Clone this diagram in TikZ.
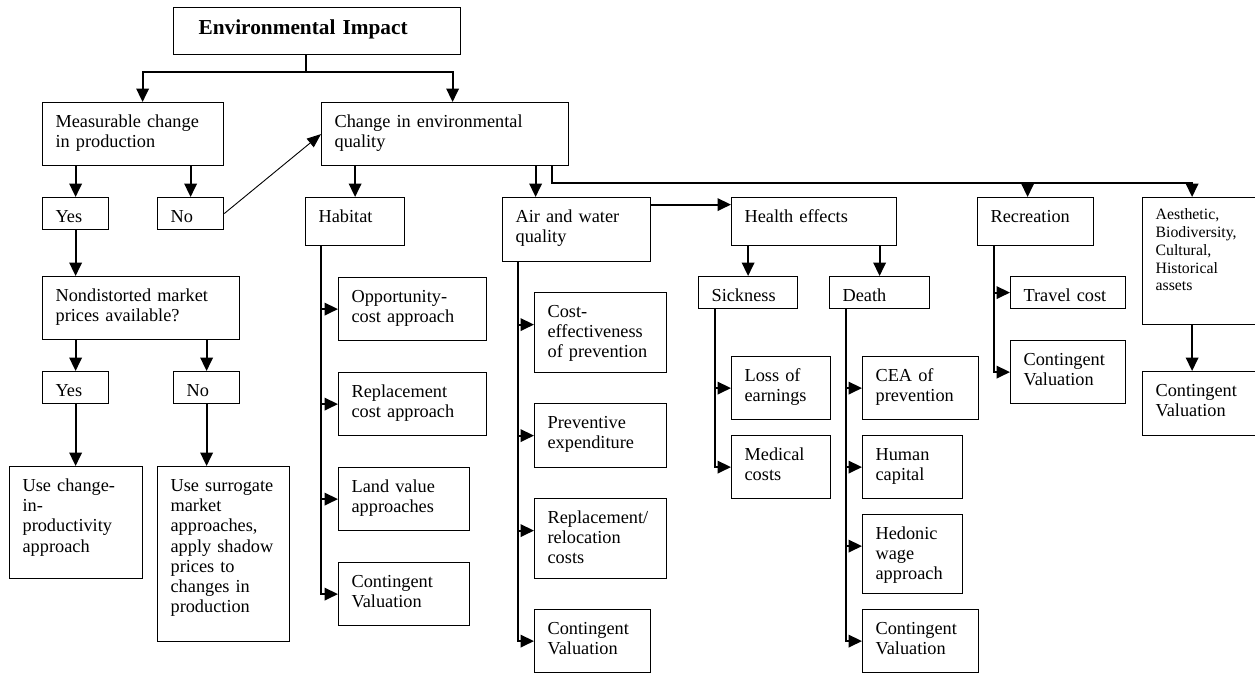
\documentclass[tikz,border=0pt]{standalone}
\usepackage{fontspec}
\setmainfont{Liberation Serif}
\usetikzlibrary{arrows.meta}

\begin{document}
\begin{tikzpicture}[
  x=1pt, y=-1pt,
  box/.style={draw, line width=1.2pt, anchor=north west, align=left, inner xsep=13pt, inner ysep=0pt,
    text height=24.5pt, font=\fontsize{18.3}{20.3}\selectfont},
  small/.style={font=\fontsize{15.8}{17.8}\selectfont, text height=22pt},
  arrow/.style={-{Triangle[length=13.5pt,width=12.5pt]}, line width=2pt},
  thinarrow/.style={-{Triangle[length=14pt,width=11pt]}, line width=0.9pt}
]
\useasboundingbox (0,0) rectangle (1255,673);

% Top
\node[box, font=\bfseries\fontsize{21.3}{24}\selectfont, inner xsep=25pt, text height=27pt, text width=237pt, text depth=20pt] (ei) at (173,7) {Environmental Impact};
\node[box, text width=155pt, text depth=38.5pt] (meas) at (42,102)  {Measurable change\\in production};
\node[box, text width=221pt, text depth=38.5pt] (chg)  at (321,102) {Change in environmental\\quality};

% Production side (left)
\node[box, text width=40pt, text depth=7.5pt]    (yes1) at (42,197)  {Yes};
\node[box, text width=40pt, text depth=7.5pt]    (no1)  at (157,197) {No};
\node[box, text width=171pt, text depth=38.5pt]  (ndm)  at (42,276)  {Nondistorted market\\prices available?};
\node[box, text width=40pt, text depth=7.5pt]    (yes2) at (42,371)  {Yes};
\node[box, text width=40pt, text depth=7.5pt]    (no2)  at (173,371) {No};
\node[box, text width=107pt, text depth=87.5pt]  (cip)  at (9,466)   {Use change-\\in-\\productivity\\approach};
\node[box, text width=106pt, text depth=150.5pt] (sur)  at (157,466) {Use surrogate\\market\\approaches,\\apply shadow\\prices to\\changes in\\production};

% Habitat
\node[box, text width=73pt, text depth=23.5pt]   (hab)  at (305,197) {Habitat};
\node[box, text width=122pt, text depth=38.5pt]  (opp)  at (338,277) {Opportunity-\\cost approach};
\node[box, text width=122pt, text depth=38.5pt]  (rep)  at (338,372) {Replacement\\cost approach};
\node[box, text width=105pt, text depth=38.5pt]  (land) at (338,467) {Land value\\approaches};
\node[box, text width=105pt, text depth=38.5pt]  (cvh)  at (338,562) {Contingent\\Valuation};

% Air and water
\node[box, text width=122pt, text depth=39.5pt]  (air)  at (502,197) {Air and water\\quality};
\node[box, text width=106pt, text depth=55.5pt]  (cep)  at (534,292) {Cost-\\effectiveness\\of prevention};
\node[box, text width=106pt, text depth=39.5pt]  (pre)  at (534,403) {Preventive\\expenditure};
\node[box, text width=106pt, text depth=55.5pt]  (rel)  at (534,498) {Replacement/\\relocation\\costs};
\node[box, text width=90pt, text depth=38.5pt]   (cva)  at (534,609) {Contingent\\Valuation};

% Health
\node[box, text width=139pt, text depth=23.5pt]  (hlth) at (731,197) {Health effects};
\node[box, text width=73pt, text depth=7.5pt]    (sick) at (698,276) {Sickness};
\node[box, text width=74pt, text depth=7.5pt]    (dth)  at (829,276) {Death};
\node[box, text width=73pt, text depth=38.5pt]   (loss) at (731,356) {Loss of\\earnings};
\node[box, text width=73pt, text depth=38.5pt]   (med)  at (731,435) {Medical\\costs};
\node[box, text width=90pt, text depth=38.5pt]   (cea)  at (862,356) {CEA of\\prevention};
\node[box, text width=74pt, text depth=38.5pt]   (hum)  at (862,435) {Human\\capital};
\node[box, text width=74pt, text depth=54.5pt]   (hed)  at (862,514) {Hedonic\\wage\\approach};
\node[box, text width=90pt, text depth=38.5pt]   (cvd)  at (862,609) {Contingent\\Valuation};

% Recreation and others
\node[box, text width=90pt, text depth=23.5pt]   (rec)  at (977,197)  {Recreation};
\node[box, text width=89pt, text depth=7.5pt]    (trav) at (1010,276) {Travel cost};
\node[box, text width=89pt, text depth=38.5pt]   (cvr)  at (1010,340) {Contingent\\Valuation};
\node[box, small, text width=89pt, text depth=105pt] (aes) at (1142,197) {Aesthetic,\\Biodiversity,\\Cultural,\\Historical\\assets};
\node[box, text width=89pt, text depth=39.5pt]   (cve)  at (1142,371) {Contingent\\Valuation};

% Arrows from the top
\coordinate (eitap) at ([xshift=-11.5pt]ei.south);
\draw[arrow] (eitap) -- ++(0,17) -| ([xshift=9.5pt]meas.north);
\draw[arrow] (eitap) -- ++(0,17) -| ([xshift=7.5pt]chg.north);

% Production branch
\draw[arrow] (yes1.north |- meas.south) -- (yes1.north);
\draw[arrow] (no1.north |- meas.south) -- (no1.north);
\draw[thinarrow] (no1.east) -- (chg.west);
\draw[arrow] (yes1.south) -- (yes1.south |- ndm.north);
\draw[arrow] (yes2.north |- ndm.south) -- (yes2.north);
\draw[arrow] (no2.north |- ndm.south) -- (no2.north);
\draw[arrow] (yes2.south) -- (yes2.south |- cip.north);
\draw[arrow] (no2.south) -- (no2.south |- sur.north);

% Quality branch
\draw[arrow] (hab.north |- chg.south) -- (hab.north);
\coordinate (airtap) at ([xshift=90.5pt]chg.south);
\draw[arrow] (airtap) -- (airtap |- air.north);
\coordinate (restap) at ([xshift=106.5pt]chg.south);
\draw[arrow] (restap) -- ++(0,17) -| ([xshift=-8pt]rec.north);
\draw[arrow] (restap) -- ++(0,17) -| ([xshift=-8pt]aes.north);
\coordinate (hetap) at ([yshift=25pt]air.east);
\draw[arrow] (hetap) -- (hetap -| hlth.west);
\draw[arrow] (sick.north |- hlth.south) -- (sick.north);
\draw[arrow] (dth.north |- hlth.south) -- (dth.north);
\draw[arrow] ([xshift=-8pt]aes.south) -- ([xshift=-8pt]cve.north);

% Habitat list
\coordinate (habbus) at ([xshift=16pt]hab.south west);
\draw[arrow] (habbus) |- (cvh.west);
\draw[arrow] (habbus |- opp.west) -- (opp.west);
\draw[arrow] (habbus |- rep.west) -- (rep.west);
\draw[arrow] (habbus |- land.west) -- (land.west);

% Air and water list
\coordinate (airbus) at ([xshift=16pt]air.south west);
\coordinate (cepin) at ([yshift=8pt]cep.west);
\coordinate (relin) at ([yshift=8pt]rel.west);
\draw[arrow] (airbus) |- (cva.west);
\draw[arrow] (airbus |- cepin) -- (cepin);
\draw[arrow] (airbus |- pre.west) -- (pre.west);
\draw[arrow] (airbus |- relin) -- (relin);

% Sickness and death lists
\coordinate (sickbus) at ([xshift=17pt]sick.south west);
\draw[arrow] (sickbus) |- (med.west);
\draw[arrow] (sickbus |- loss.west) -- (loss.west);
\coordinate (dthbus) at ([xshift=17pt]dth.south west);
\coordinate (hedin) at ([yshift=8pt]hed.west);
\draw[arrow] (dthbus) |- (cvd.west);
\draw[arrow] (dthbus |- cea.west) -- (cea.west);
\draw[arrow] (dthbus |- hum.west) -- (hum.west);
\draw[arrow] (dthbus |- hedin) -- (hedin);

% Recreation list
\coordinate (recbus) at ([xshift=17pt]rec.south west);
\draw[arrow] (recbus) |- (cvr.west);
\draw[arrow] (recbus |- trav.west) -- (trav.west);

\end{tikzpicture}
\end{document}
